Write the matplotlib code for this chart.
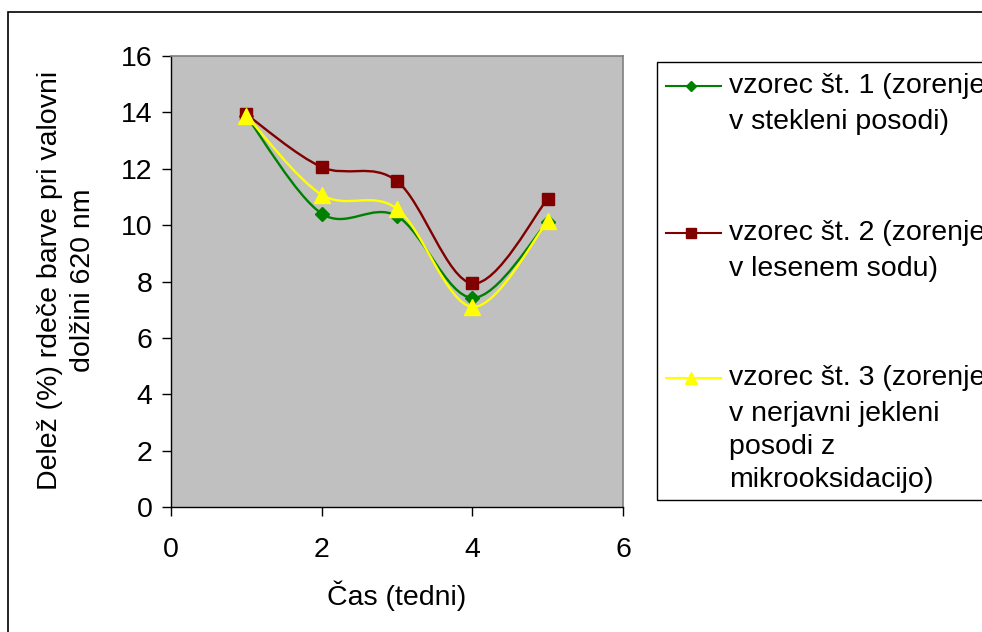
import matplotlib
matplotlib.use("Agg")
import matplotlib.pyplot as plt
from matplotlib.path import Path
from matplotlib.patches import PathPatch, Rectangle
from matplotlib.lines import Line2D

plt.rcParams['font.family'] = ['Liberation Sans', 'DejaVu Sans']

weeks = [1, 2, 3, 4, 5]
sample1 = [13.87, 10.41, 10.32, 7.42, 10.12]
sample2 = [13.93, 12.06, 11.56, 7.93, 10.93]
sample3 = [13.88, 11.08, 10.58, 7.10, 10.13]

labels = [
    ["vzorec št. 1 (zorenje", "v stekleni posodi)"],
    ["vzorec št. 2 (zorenje", "v lesenem sodu)"],
    ["vzorec št. 3 (zorenje", "v nerjavni jekleni", "posodi z", "mikrooksidacijo)"],
]
colors = ["#008000", "#800000", "#FFFF00"]
markers = ["D", "s", "^"]
msizes = [7, 8.6, 11]
series = [sample1, sample2, sample3]

xticks = [0, 2, 4, 6]
yticks = [0, 2, 4, 6, 8, 10, 12, 14, 16]

FS = 20.5
W, H = 982, 632
fig = plt.figure(figsize=(W / 100, H / 100), dpi=100)
fig.patch.set_facecolor("white")

# outer chart frame (cut by the image edge at right/bottom)
fig.patches.append(Rectangle((8 / W, -0.1), 1.2, 1.1 - 12 / H, transform=fig.transFigure,
                             fill=False, edgecolor="black", linewidth=1.2))

ax = fig.add_axes([171 / W, 1 - 507 / H, (623 - 171) / W, (507 - 56) / H])
ax.set_facecolor("#C0C0C0")
ax.set_xlim(0, 6)
ax.set_ylim(0, 16)
ax.set_xticks(xticks)
ax.set_yticks(yticks)
ax.tick_params(axis="both", labelsize=FS, direction="out", length=6.5, width=1, colors="black")
ax.tick_params(axis="y", pad=7)
ax.tick_params(axis="x", pad=15)
for s in ["top", "right"]:
    ax.spines[s].set_color("#808080")
    ax.spines[s].set_linewidth(1.2)
for s in ["left", "bottom"]:
    ax.spines[s].set_color("black")
    ax.spines[s].set_linewidth(1.0)


def smooth_path(xs, ys):
    pts = list(zip(xs, ys))
    n = len(pts)
    verts = [pts[0]]
    codes = [Path.MOVETO]
    for i in range(n - 1):
        p0 = pts[i - 1] if i > 0 else pts[i]
        p1 = pts[i]
        p2 = pts[i + 1]
        p3 = pts[i + 2] if i + 2 < n else pts[i + 1]
        c1 = (p1[0] + (p2[0] - p0[0]) / 6, p1[1] + (p2[1] - p0[1]) / 6)
        c2 = (p2[0] - (p3[0] - p1[0]) / 6, p2[1] - (p3[1] - p1[1]) / 6)
        verts += [c1, c2, p2]
        codes += [Path.CURVE4] * 3
    return Path(verts, codes)


for ys, c, m, ms in zip(series, colors, markers, msizes):
    ax.add_patch(PathPatch(smooth_path(weeks, ys), fill=False, edgecolor=c, linewidth=1.7,
                           transform=ax.transData, zorder=3))
    ax.plot(weeks, ys, linestyle="none", marker=m, markersize=ms, color=c,
            markeredgecolor=c, zorder=4)

fig.text(67 / W, 1 - 280 / H, "Delež (%) rdeče barve pri valovni\ndolžini 620 nm",
         rotation=90, ha="center", va="center", fontsize=FS, linespacing=1.35)
fig.text(397 / W, 1 - 596 / H, "Čas (tedni)", ha="center", va="center", fontsize=FS)

# legend box
fig.patches.append(Rectangle((657 / W, 1 - 500 / H), 1.0, (500 - 62) / H, transform=fig.transFigure,
                             fill=False, edgecolor="black", linewidth=1.0))
line_y = [[86, 122], [233, 269], [378, 414, 447, 480]]
leg_msizes = [5, 6.5, 8]
for lab, ys_, c, m, ms in zip(labels, line_y, colors, markers, leg_msizes):
    y0 = 1 - ys_[0] / H
    fig.add_artist(Line2D([666 / W, 721 / W], [y0, y0], transform=fig.transFigure,
                          color=c, linewidth=1.5))
    fig.add_artist(Line2D([691 / W], [y0], transform=fig.transFigure, marker=m,
                          markersize=ms, color=c, markeredgecolor=c, linestyle="none"))
    for t, yy in zip(lab, ys_):
        fig.text(729 / W, 1 - yy / H, t, ha="left", va="center", fontsize=FS)

fig.savefig("out.png", dpi=100)
